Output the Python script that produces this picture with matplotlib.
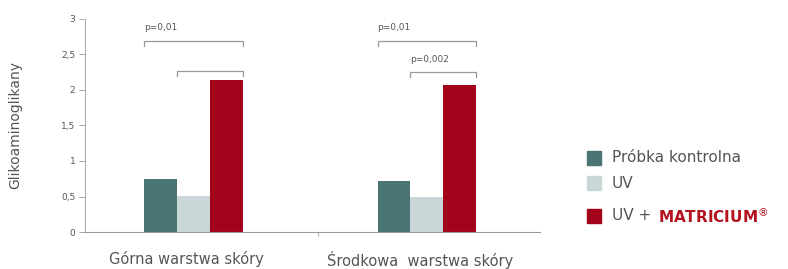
import matplotlib.pyplot as plt
from matplotlib.patches import Rectangle

categories = ['Górna warstwa skóry', 'Środkowa  warstwa skóry']
kontrolna = [0.75, 0.72]
uv = [0.51, 0.49]
uv_matricium = [2.14, 2.07]
yticks = [0, 0.5, 1, 1.5, 2, 2.5, 3]
yticklabels = ['0', '0,5', '1', '1,5', '2', '2,5', '3']

# brackets: (group, bar_from, bar_to, height, label)
brackets = [
    (0, -1, 1, 2.69, 'p=0,01'),
    (0, 0, 1, 2.27, ''),
    (1, -1, 1, 2.69, 'p=0,01'),
    (1, 0, 1, 2.25, 'p=0,002'),
]

c_dark = '#4b7474'
c_light = '#c9d7d9'
c_red = '#a3031a'
c_text = '#555555'
c_axis = '#9a9a9a'


def main():
    fig = plt.figure(figsize=(7.88, 2.69), dpi=100)
    ax = fig.add_axes([0.108, 0.1375, 0.577, 0.792])

    w = 0.141
    x = [0, 1]
    ax.bar([i - w for i in x], kontrolna, w, color=c_dark)
    ax.bar(x, uv, w, color=c_light)
    ax.bar([i + w for i in x], uv_matricium, w, color=c_red)

    for g, a, b, h, lab in brackets:
        x0 = g + a * w - w / 2
        x1 = g + b * w + w / 2
        ax.plot([x0, x0, x1, x1], [h - 0.07, h, h, h - 0.07],
                color=c_axis, lw=0.9, clip_on=False)
        if lab:
            ax.text(x0, h + 0.12, lab, fontsize=6.5, color=c_text,
                    ha='left', va='bottom')

    ax.set_xlim(-0.465, 1.484)
    ax.set_ylim(0, 3)
    ax.set_yticks(yticks)
    ax.set_yticklabels(yticklabels, fontsize=6.5, color=c_text)
    ax.set_xticks([0.533])
    ax.set_xticklabels([''])
    ax.tick_params(axis='y', length=4, width=0.6, color=c_axis, pad=3)
    ax.tick_params(axis='x', length=3, width=0.6, color=c_axis)
    for s in ['top', 'right']:
        ax.spines[s].set_visible(False)
    ax.spines['left'].set_color(c_axis)
    ax.spines['left'].set_linewidth(0.6)
    ax.spines['bottom'].set_color(c_axis)
    ax.spines['bottom'].set_linewidth(0.8)
    ax.set_ylabel('Glikoaminoglikany', fontsize=10, color=c_text, labelpad=28)

    for i, c in enumerate(categories):
        ax.text(x[i] - 0.03, -0.27, c, fontsize=10.5, color=c_text,
                ha='center', va='top', transform=ax.transData)

    # legend drawn by hand, the last entry has two colours
    cols = [c_dark, c_light, c_red]
    rows = [158, 183, 216]
    for col, y in zip(cols, rows):
        fig.patches.append(Rectangle((587 / 788, 1 - (y + 7) / 269), 14 / 788, 14 / 269,
                                     color=col, transform=fig.transFigure))
    fig.text(612 / 788, 1 - 158 / 269, 'Próbka kontrolna', fontsize=11,
             color=c_text, va='center')
    fig.text(612 / 788, 1 - 183 / 269, 'UV', fontsize=11, color=c_text, va='center')
    t = fig.text(612 / 788, 1 - 216 / 269, 'UV + ', fontsize=11, color=c_text, va='center')
    fig.canvas.draw()
    bb = t.get_window_extent()
    fig.text(bb.x1 / 788 + 2 / 788, 1 - 216 / 269, 'MATRICIUM$^{®}$', fontsize=11,
             color='#b3121f', fontweight='bold', va='center')

    fig.savefig('out.png', dpi=100)


if __name__ == "__main__":
    main()
